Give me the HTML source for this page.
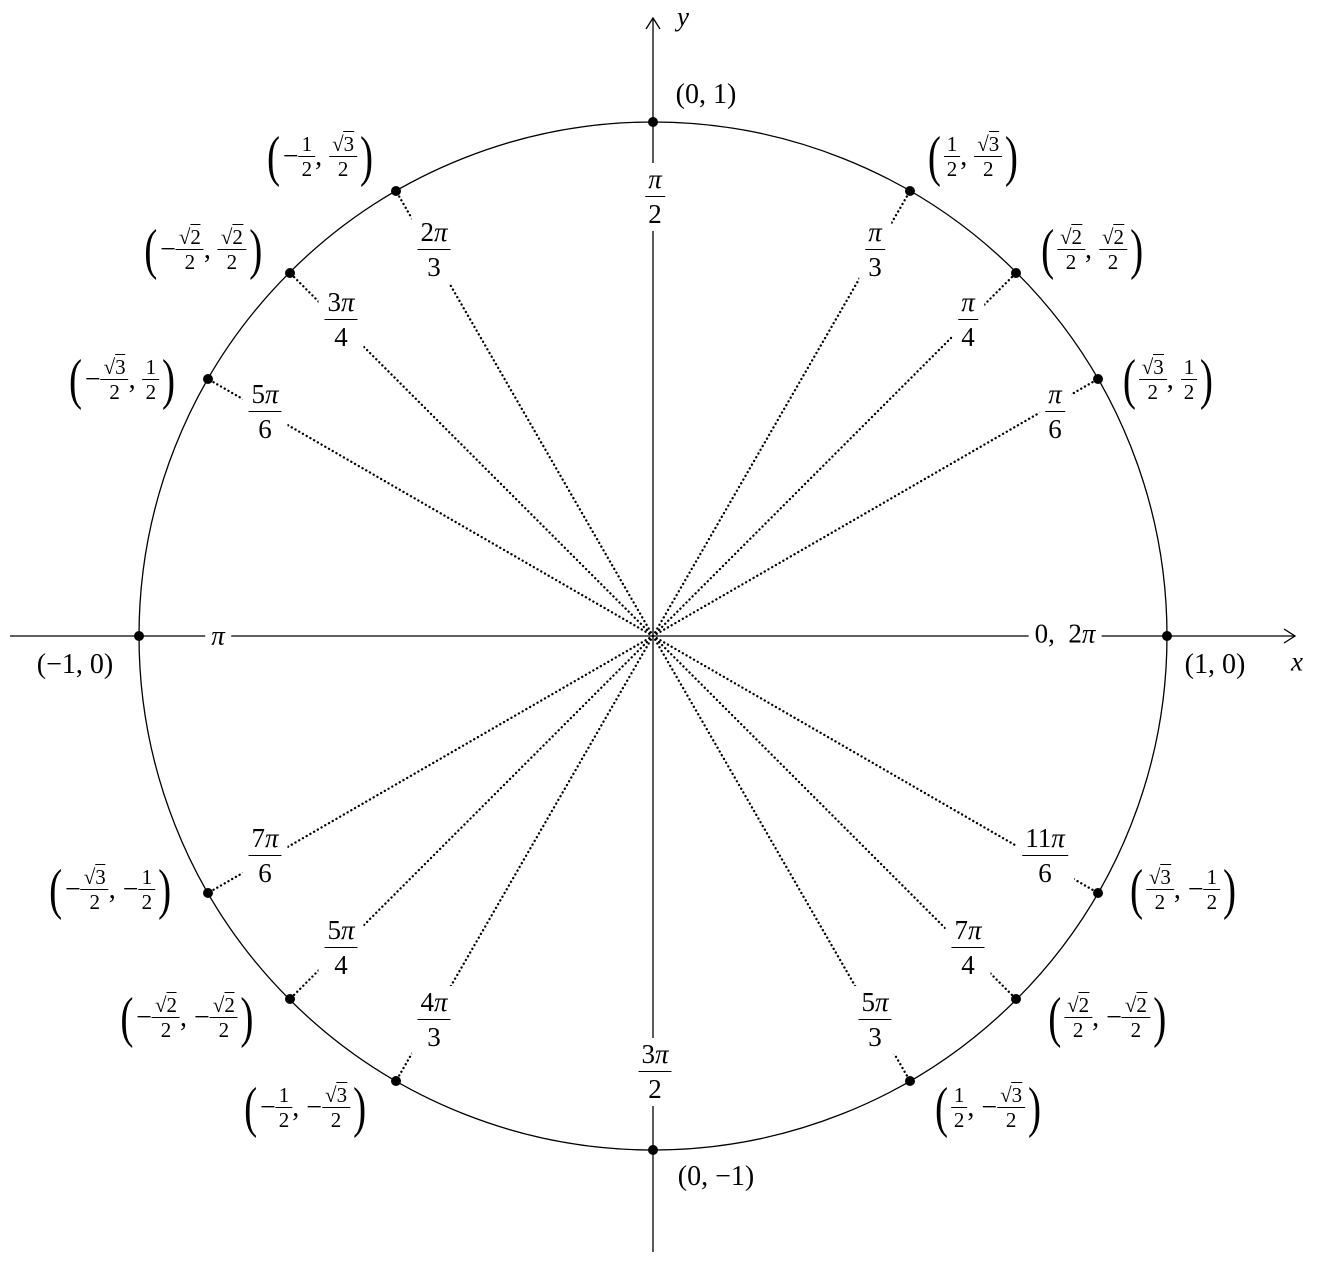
<!DOCTYPE html>
<html><head><meta charset="utf-8">
<style>
html,body{margin:0;padding:0;background:#fff;}
body{width:1318px;height:1262px;position:relative;overflow:hidden;font-family:"Liberation Serif",serif;color:#000;}
svg{position:absolute;left:0;top:0;}
.l{position:absolute;transform:translate(-50%,-50%);white-space:nowrap;font-size:27px;line-height:1;display:flex;align-items:center;}
.c{font-size:28px;}
.bg{background:#fff;padding:3px 6px;}
.fr{display:inline-flex;flex-direction:column;align-items:center;vertical-align:middle;}
.fr>span:first-child{border-bottom:1.3px solid #000;padding:0 3px 3px;}
.fr>span:last-child{padding-top:4px;}
.s{font-size:28px;}
.s .fr{font-size:21px;}
.s .fr>span:first-child{padding:0 3px 1px;}
.s .fr>span:last-child{padding-top:2px;}
.p{font-size:56px;font-weight:100;transform:scaleX(.7);display:inline-block;line-height:1;}
.sq>span{border-top:1.2px solid #000;}
i{font-style:italic;}
</style></head><body>
<svg width="1318" height="1262" viewBox="0 0 1318 1262">
<g stroke="#000" stroke-width="1.3" fill="none">
<line x1="10" y1="636" x2="1295" y2="636"/>
<polyline points="1284,629 1295,636 1284,643"/>
<line x1="653" y1="1252" x2="653" y2="18"/>
<polyline points="646,29 653,18 660,29"/>
<circle cx="653" cy="636" r="514"/>
</g>
<g stroke="#000" stroke-width="2.3" stroke-dasharray="0.1 4.2" stroke-linecap="round" fill="none">
<line x1="653" y1="636" x2="1098" y2="379"/>
<line x1="653" y1="636" x2="1016" y2="273"/>
<line x1="653" y1="636" x2="910" y2="191"/>
<line x1="653" y1="636" x2="396" y2="191"/>
<line x1="653" y1="636" x2="290" y2="273"/>
<line x1="653" y1="636" x2="208" y2="379"/>
<line x1="653" y1="636" x2="208" y2="893"/>
<line x1="653" y1="636" x2="290" y2="999"/>
<line x1="653" y1="636" x2="396" y2="1081"/>
<line x1="653" y1="636" x2="910" y2="1081"/>
<line x1="653" y1="636" x2="1016" y2="999"/>
<line x1="653" y1="636" x2="1098" y2="893"/>
</g>
<g fill="#000">
<circle cx="1167" cy="636" r="5"/><circle cx="139" cy="636" r="5"/>
<circle cx="653" cy="122" r="5"/><circle cx="653" cy="1150" r="5"/>
<circle cx="1098" cy="379" r="5"/><circle cx="1016" cy="273" r="5"/><circle cx="910" cy="191" r="5"/>
<circle cx="396" cy="191" r="5"/><circle cx="290" cy="273" r="5"/><circle cx="208" cy="379" r="5"/>
<circle cx="208" cy="893" r="5"/><circle cx="290" cy="999" r="5"/><circle cx="396" cy="1081" r="5"/>
<circle cx="910" cy="1081" r="5"/><circle cx="1016" cy="999" r="5"/><circle cx="1098" cy="893" r="5"/>
</g>
</svg>

<div class="l bg" style="left:655px;top:197px"><span class="fr"><span><i>π</i></span><span>2</span></span></div>
<div class="l bg" style="left:875px;top:250px"><span class="fr"><span><i>π</i></span><span>3</span></span></div>
<div class="l bg" style="left:968px;top:320px"><span class="fr"><span><i>π</i></span><span>4</span></span></div>
<div class="l bg" style="left:1055px;top:412px"><span class="fr"><span><i>π</i></span><span>6</span></span></div>
<div class="l bg" style="left:434px;top:250px"><span class="fr"><span>2<i>π</i></span><span>3</span></span></div>
<div class="l bg" style="left:341px;top:320px"><span class="fr"><span>3<i>π</i></span><span>4</span></span></div>
<div class="l bg" style="left:265px;top:412px"><span class="fr"><span>5<i>π</i></span><span>6</span></span></div>
<div class="l bg" style="left:218px;top:636px"><i>π</i></div>
<div class="l bg" style="left:1065px;top:634px">0,&nbsp; 2<i>π</i></div>
<div class="l bg" style="left:265px;top:856px"><span class="fr"><span>7<i>π</i></span><span>6</span></span></div>
<div class="l bg" style="left:341px;top:948px"><span class="fr"><span>5<i>π</i></span><span>4</span></span></div>
<div class="l bg" style="left:434px;top:1020px"><span class="fr"><span>4<i>π</i></span><span>3</span></span></div>
<div class="l bg" style="left:655px;top:1072px"><span class="fr"><span>3<i>π</i></span><span>2</span></span></div>
<div class="l bg" style="left:875px;top:1020px"><span class="fr"><span>5<i>π</i></span><span>3</span></span></div>
<div class="l bg" style="left:968px;top:948px"><span class="fr"><span>7<i>π</i></span><span>4</span></span></div>
<div class="l bg" style="left:1045px;top:856px"><span class="fr"><span>11<i>π</i></span><span>6</span></span></div>

<div class="l" style="left:683px;top:17px"><i>y</i></div>
<div class="l" style="left:1297px;top:662px"><i>x</i></div>

<div class="l c" style="left:706px;top:95px">(0, 1)</div>
<div class="l c" style="left:1215px;top:665px">(1, 0)</div>
<div class="l c" style="left:75px;top:665px">(−1, 0)</div>
<div class="l c" style="left:716px;top:1177px">(0, −1)</div>

<div class="l s" style="left:973px;top:157px"><span class="p">(</span><span class="fr"><span>1</span><span>2</span></span>,&nbsp;<span class="fr"><span class="sq">√<span>3</span></span><span>2</span></span><span class="p">)</span></div>
<div class="l s" style="left:1092px;top:250px"><span class="p">(</span><span class="fr"><span class="sq">√<span>2</span></span><span>2</span></span>,&nbsp;<span class="fr"><span class="sq">√<span>2</span></span><span>2</span></span><span class="p">)</span></div>
<div class="l s" style="left:1168px;top:380px"><span class="p">(</span><span class="fr"><span class="sq">√<span>3</span></span><span>2</span></span>,&nbsp;<span class="fr"><span>1</span><span>2</span></span><span class="p">)</span></div>

<div class="l s" style="left:320px;top:157px"><span class="p">(</span>−<span class="fr"><span>1</span><span>2</span></span>,&nbsp;<span class="fr"><span class="sq">√<span>3</span></span><span>2</span></span><span class="p">)</span></div>
<div class="l s" style="left:203px;top:250px"><span class="p">(</span>−<span class="fr"><span class="sq">√<span>2</span></span><span>2</span></span>,&nbsp;<span class="fr"><span class="sq">√<span>2</span></span><span>2</span></span><span class="p">)</span></div>
<div class="l s" style="left:122px;top:380px"><span class="p">(</span>−<span class="fr"><span class="sq">√<span>3</span></span><span>2</span></span>,&nbsp;<span class="fr"><span>1</span><span>2</span></span><span class="p">)</span></div>

<div class="l s" style="left:110px;top:890px"><span class="p">(</span>−<span class="fr"><span class="sq">√<span>3</span></span><span>2</span></span>, −<span class="fr"><span>1</span><span>2</span></span><span class="p">)</span></div>
<div class="l s" style="left:187px;top:1018px"><span class="p">(</span>−<span class="fr"><span class="sq">√<span>2</span></span><span>2</span></span>, −<span class="fr"><span class="sq">√<span>2</span></span><span>2</span></span><span class="p">)</span></div>
<div class="l s" style="left:305px;top:1108px"><span class="p">(</span>−<span class="fr"><span>1</span><span>2</span></span>, −<span class="fr"><span class="sq">√<span>3</span></span><span>2</span></span><span class="p">)</span></div>

<div class="l s" style="left:1183px;top:890px"><span class="p">(</span><span class="fr"><span class="sq">√<span>3</span></span><span>2</span></span>, −<span class="fr"><span>1</span><span>2</span></span><span class="p">)</span></div>
<div class="l s" style="left:1107px;top:1018px"><span class="p">(</span><span class="fr"><span class="sq">√<span>2</span></span><span>2</span></span>, −<span class="fr"><span class="sq">√<span>2</span></span><span>2</span></span><span class="p">)</span></div>
<div class="l s" style="left:988px;top:1108px"><span class="p">(</span><span class="fr"><span>1</span><span>2</span></span>, −<span class="fr"><span class="sq">√<span>3</span></span><span>2</span></span><span class="p">)</span></div>
</body></html>
